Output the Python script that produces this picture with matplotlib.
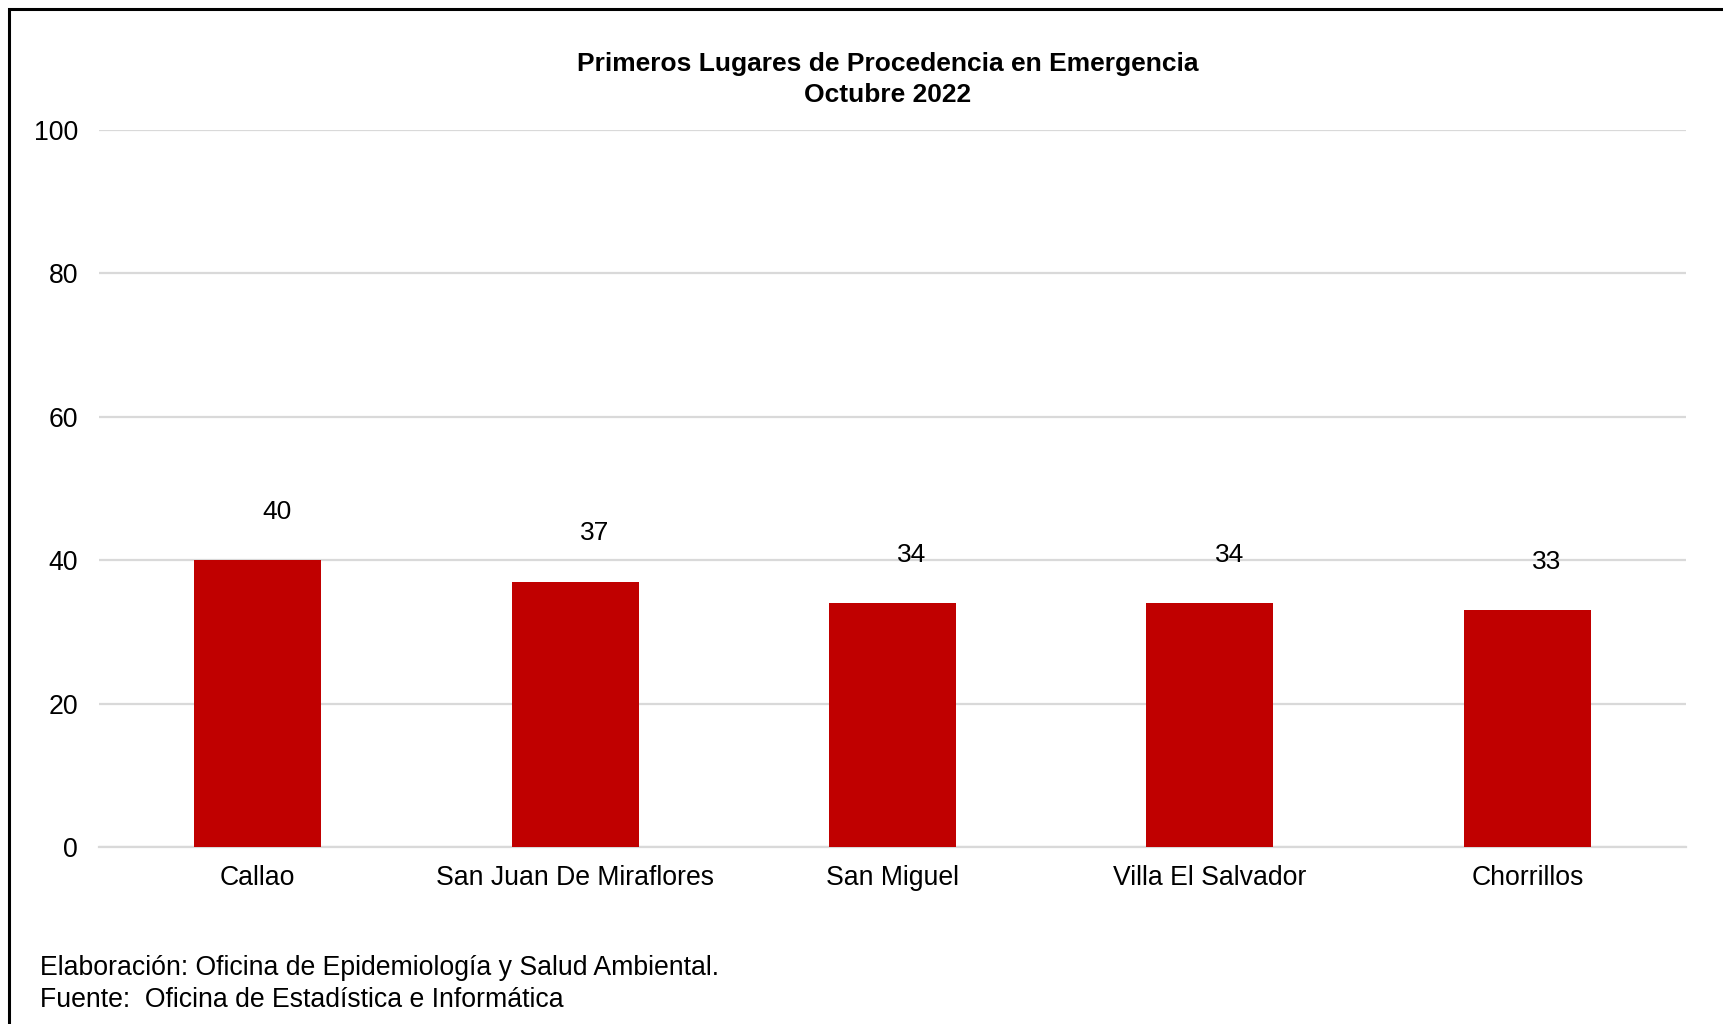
import matplotlib
matplotlib.use('Agg')
import matplotlib.pyplot as plt
from matplotlib.patches import Rectangle

plt.rcParams['font.family'] = ['Liberation Sans', 'DejaVu Sans']

# datos
lugares = ['Callao', 'San Juan De Miraflores', 'San Miguel', 'Villa El Salvador', 'Chorrillos']
atenciones = [40, 37, 34, 34, 33]
y_ticks = [0, 20, 40, 60, 80, 100]

titulo = 'Primeros Lugares de Procedencia en Emergencia\nOctubre 2022'
pie = 'Elaboración: Oficina de Epidemiología y Salud Ambiental.\nFuente:  Oficina de Estadística e Informática'

fig = plt.figure(figsize=(17.24, 10.24), dpi=100)
ax = fig.add_axes([0.0574, 0.1729, 0.9206, 0.7001])

x = range(len(lugares))
ax.bar(x, atenciones, width=0.40, color='#c00000', zorder=3)

# etiquetas de valor (desplazadas como en el original)
for i, v in zip(x, atenciones):
    ax.annotate(str(v), (i, v), xytext=(14, 35), textcoords='offset points',
                ha='center', va='center', fontsize=19, color='black')

ax.set_xlim(-0.5, len(lugares) - 0.5)
ax.set_ylim(0, 100)
ax.set_yticks(y_ticks)
ax.set_xticks(list(x))
ax.set_xticklabels(lugares)
ax.tick_params(axis='both', length=0, labelsize=19.2)
ax.tick_params(axis='y', pad=15)
ax.tick_params(axis='x', pad=13)
ax.grid(axis='y', color='#d9d9d9', linewidth=1.6, zorder=0)
for s in ['left', 'right', 'top']:
    ax.spines[s].set_visible(False)
ax.spines['bottom'].set_color('#d9d9d9')
ax.spines['bottom'].set_linewidth(1.6)

fig.text(0.515, 0.922, titulo, ha='center', va='center', fontsize=19,
         fontweight='bold', linespacing=1.38)
fig.text(0.023, 0.039, pie, ha='left', va='center', fontsize=19.2, linespacing=1.3)

# borde del recuadro
fig.patches.append(Rectangle((0.0052, -0.05), 1.1, 1.041, transform=fig.transFigure,
                             fill=False, edgecolor='black', linewidth=2.2))

fig.savefig('out.png', dpi=100)
